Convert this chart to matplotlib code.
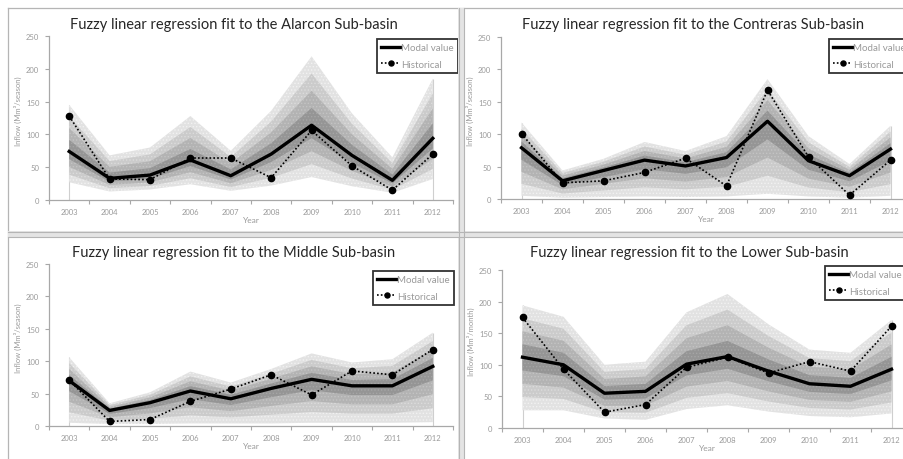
import numpy as np
import matplotlib.pyplot as plt
from matplotlib.lines import Line2D
from matplotlib.patches import Rectangle

W, H = 904, 460

years = ['2003', '2004', '2005', '2006', '2007', '2008', '2009', '2010', '2011', '2012']

# Alarcon sub-basin
alarcon_modal = [74, 33, 38, 61, 37, 70, 114, 68, 30, 94]
alarcon_hist = [128, 32, 31, 64, 64, 34, 106, 52, 15, 70]
alarcon_upper = [145, 68, 80, 128, 75, 136, 219, 132, 65, 185]
alarcon_lower = [27, 13, 16, 24, 14, 22, 35, 21, 11, 32]

# Contreras sub-basin
contreras_modal = [79, 28, 44, 60, 51, 64, 120, 59, 36, 77]
contreras_hist = [101, 25, 28, 41, 63, 20, 168, 65, 6, 60]
contreras_upper = [118, 44, 62, 88, 74, 97, 185, 97, 54, 113]
contreras_lower = [5, 2, 3, 4, 3, 4, 8, 4, 2, 5]

# Middle sub-basin
middle_modal = [70, 24, 36, 54, 42, 58, 72, 62, 62, 92]
middle_hist = [71, 7, 10, 38, 57, 79, 48, 85, 79, 118]
middle_upper = [106, 35, 52, 84, 67, 88, 112, 98, 103, 144]
middle_lower = [5, 3, 3, 4, 4, 4, 5, 5, 5, 6]

# Lower sub-basin
lower_modal = [112, 100, 55, 58, 101, 113, 90, 70, 66, 93]
lower_hist = [175, 93, 25, 37, 96, 112, 87, 105, 90, 161]
lower_upper = [194, 176, 100, 105, 183, 212, 164, 124, 119, 171]
lower_lower = [28, 28, 15, 13, 30, 36, 26, 19, 17, 23]

# h-levels of the fuzzy bands (outermost first)
h_levels = [0.0, 0.25, 0.5, 0.75]
band_colors = ['#e2e2e2', '#cbcbcb', '#b3b3b3', '#959595']
dot_colors = ['#f2f2f2', '#dcdcdc', '#c4c4c4', '#a6a6a6']

panels = [
    dict(title='Fuzzy linear regression fit to the Alarcon Sub-basin',
         modal=alarcon_modal, hist=alarcon_hist, up=alarcon_upper, lo=alarcon_lower,
         ylabel='Inflow (Mm³/season)',
         rect=(49, 453, 37, 201), title_xy=(234, 25), leg=(377, 40), ylab_x=18),
    dict(title='Fuzzy linear regression fit to the Contreras Sub-basin',
         modal=contreras_modal, hist=contreras_hist, up=contreras_upper, lo=contreras_lower,
         ylabel='Inflow (Mm³/season)',
         rect=(501, 911, 38, 200), title_xy=(693, 25), leg=(829, 40), ylab_x=470),
    dict(title='Fuzzy linear regression fit to the Middle Sub-basin',
         modal=middle_modal, hist=middle_hist, up=middle_upper, lo=middle_lower,
         ylabel='Inflow (Mm³/season)',
         rect=(49, 453, 265, 427), title_xy=(234, 253), leg=(373, 272), ylab_x=18),
    dict(title='Fuzzy linear regression fit to the Lower Sub-basin',
         modal=lower_modal, hist=lower_hist, up=lower_upper, lo=lower_lower,
         ylabel='Inflow (Mm³/month)',
         rect=(502, 912, 271, 429), title_xy=(689, 253), leg=(825, 267), ylab_x=471),
]

plt.rcParams['font.family'] = ['Lato', 'DejaVu Sans']
plt.rcParams['hatch.linewidth'] = 0.6
fig = plt.figure(figsize=(W / 100, H / 100), dpi=100)
fig.patch.set_facecolor('white')

gray_txt = '#9a9a9a'
axis_col = '#a8a8a8'

for p in panels:
    l, r, t, b = p['rect']
    ax = fig.add_axes([l / W, 1 - b / H, (r - l) / W, (b - t) / H])
    x = np.arange(len(years))
    modal = np.array(p['modal'], float)
    up = np.array(p['up'], float)
    lo = np.array(p['lo'], float)

    ax.vlines([x[0], x[-1]], 0, up[[0, -1]], color='#cfcfcf', lw=0.8, zorder=1)
    for h, c, dc in zip(h_levels, band_colors, dot_colors):
        ax.fill_between(x, modal - (1 - h) * (modal - lo), modal + (1 - h) * (up - modal),
                        facecolor=c, edgecolor=dc, hatch='.....', lw=0, zorder=2)
    ax.plot(x, modal, color='black', lw=2.4, zorder=4, label='Modal value')
    ax.plot(x, p['hist'], color='black', lw=1.2, ls=(0, (1, 1.3)), marker='o',
            ms=4.5, zorder=5, label='Historical')

    ax.set_xlim(-0.5, len(years) - 0.5)
    ax.set_ylim(0, 250)
    ax.set_yticks(range(0, 251, 50))
    ax.set_xticks(np.arange(-0.5, len(years), 1))
    ax.set_xticklabels([])
    ax.set_xticks(x, minor=True)
    ax.set_xticklabels(years, minor=True)
    ax.tick_params(axis='x', which='minor', length=0, pad=6, labelsize=5.5, labelcolor=gray_txt)
    ax.tick_params(axis='x', which='major', length=3, color=axis_col, width=0.8)
    ax.tick_params(axis='y', length=3, color=axis_col, width=0.8, labelsize=5.5,
                   labelcolor=gray_txt, pad=4)
    for s in ['top', 'right']:
        ax.spines[s].set_visible(False)
    for s in ['left', 'bottom']:
        ax.spines[s].set_color(axis_col)
        ax.spines[s].set_linewidth(0.9)
    ax.set_facecolor('none')

    fig.text(p['title_xy'][0] / W, 1 - p['title_xy'][1] / H, p['title'],
             ha='center', va='center', fontsize=10.5, color='#262626')
    fig.text(((l + r) / 2) / W, 1 - (b + 20) / H, 'Year', ha='center', va='center',
             fontsize=6, color=gray_txt)
    fig.text(p['ylab_x'] / W, 1 - ((t + b) / 2 - 8) / H, p['ylabel'], rotation=90,
             ha='center', va='center', fontsize=5.5, color=gray_txt)

    lx, ly = p['leg']
    leg = ax.legend(loc='upper left', bbox_to_anchor=(lx / W, 1 - ly / H),
                    bbox_transform=fig.transFigure, fontsize=7, frameon=True,
                    fancybox=False, borderpad=0.45, labelspacing=0.75, handlelength=1.9,
                    handletextpad=0.1, borderaxespad=0, markerscale=0.8)
    leg.get_frame().set_edgecolor('black')
    leg.get_frame().set_linewidth(1.3)
    for txt in leg.get_texts():
        txt.set_color(gray_txt)

# screenshot frame and dividers between the four charts
frame = '#b5b5b5'
fig.add_artist(Line2D([8 / W, 8 / W], [0, 1 - 9 / H], color=frame, lw=0.9))
fig.add_artist(Line2D([8 / W, 1], [1 - 9 / H, 1 - 9 / H], color=frame, lw=0.9))
fig.add_artist(Rectangle((458 / W, 0), 7 / W, 1 - 9 / H, facecolor='#e4e4e4',
                         edgecolor='none', zorder=10))
fig.add_artist(Rectangle((8 / W, 1 - 239 / H), 1, 7 / H, facecolor='#e4e4e4',
                         edgecolor='none', zorder=10))
for xv in (459, 464):
    fig.add_artist(Line2D([xv / W, xv / W], [0, 1 - 9 / H], color=frame, lw=0.8, zorder=11))
for yv in (233, 238):
    fig.add_artist(Line2D([8 / W, 1], [1 - yv / H, 1 - yv / H], color=frame, lw=0.8, zorder=11))

fig.savefig('out.png', dpi=100)
